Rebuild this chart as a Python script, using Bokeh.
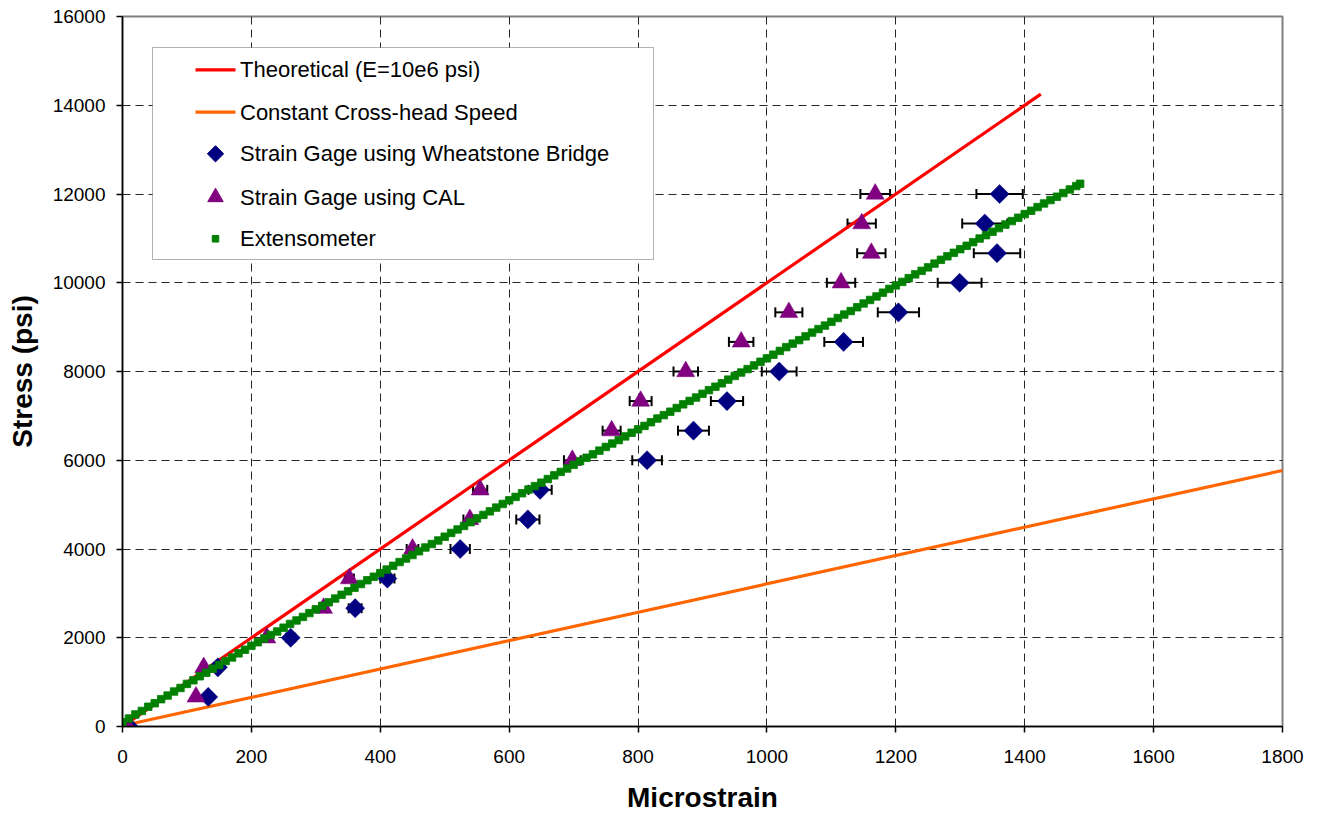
import numpy as np
from bokeh.plotting import figure
from bokeh.models import (Range1d, SingleIntervalTicker, ColumnDataSource, Whisker,
                          TeeHead, BoxAnnotation, Label)
from bokeh.embed import file_html
from bokeh.resources import INLINE

# ---------------- data ----------------
stress_levels = [0, 667, 1333, 2000, 2667, 3333, 4000, 4667, 5333, 6000,
                 6667, 7333, 8000, 8667, 9333, 10000, 10667, 11333, 12000]
wheatstone_strain = [10, 133, 148, 261, 361, 411, 524, 629, 648, 814,
                     886, 938, 1019, 1119, 1204, 1299, 1357, 1338, 1361]
wheatstone_err = [0, 4, 4, 7, 10, 11, 15, 18, 18, 23,
                  24, 25, 27, 30, 32, 34, 36, 35, 36]
cal_strain = [8, 114, 126, 224, 312, 352, 450, 539, 555, 698,
              759, 804, 874, 960, 1034, 1115, 1162, 1147, 1168]
cal_err = [0, 2, 3, 4, 6, 7, 9, 10, 11, 13,
           14, 17, 19, 19, 21, 22, 22, 22, 23]

theory_strain = [0, 1425]
theory_stress = [0, 14250]

crosshead_strain = [10, 1800]
crosshead_stress = [50, 5770]

ext_strain = [
    0, 10, 20, 30, 40, 50, 60, 70, 80, 90, 100, 110, 120, 130, 140, 150, 160, 170, 180, 190,
    200, 210, 220, 230, 240, 250, 260, 270, 280, 290, 300, 310, 320, 330, 340, 350, 360, 370, 380, 390,
    400, 410, 420, 430, 440, 450, 460, 470, 480, 490, 500, 510, 520, 530, 540, 550, 560, 570, 580, 590,
    600, 610, 620, 630, 640, 650, 660, 670, 680, 690, 700, 710, 720, 730, 740, 750, 760, 770, 780, 790,
    800, 810, 820, 830, 840, 850, 860, 870, 880, 890, 900, 910, 920, 930, 940, 950, 960, 970, 980, 990,
    1000, 1010, 1020, 1030, 1040, 1050, 1060, 1070, 1080, 1090, 1100, 1110, 1120, 1130, 1140, 1150, 1160, 1170, 1180, 1190,
    1200, 1210, 1220, 1230, 1240, 1250, 1260, 1270, 1280, 1290, 1300, 1310, 1320, 1330, 1340, 1350, 1360, 1370, 1380, 1390,
    1400, 1410, 1420, 1430, 1440, 1450, 1460, 1470, 1480, 1486]
ext_stress = [
    97, 180, 272, 351, 445, 524, 616, 697, 788, 868, 960, 1041, 1132, 1212, 1304, 1385, 1476, 1556, 1648, 1729,
    1817, 1899, 1985, 2063, 2141, 2227, 2312, 2391, 2470, 2555, 2640, 2719, 2798, 2883, 2968, 3047, 3126, 3211, 3296, 3375,
    3457, 3536, 3621, 3706, 3785, 3864, 3949, 4034, 4113, 4192, 4277, 4362, 4441, 4520, 4605, 4690, 4769, 4848, 4933, 5015,
    5097, 5174, 5257, 5340, 5417, 5494, 5577, 5660, 5737, 5814, 5897, 5980, 6057, 6134, 6217, 6300, 6377, 6454, 6537, 6620,
    6697, 6774, 6857, 6940, 7017, 7094, 7177, 7260, 7337, 7414, 7497, 7580, 7657, 7734, 7817, 7900, 7977, 8054, 8137, 8220,
    8297, 8379, 8464, 8549, 8628, 8707, 8792, 8877, 8956, 9035, 9120, 9205, 9284, 9363, 9448, 9533, 9612, 9691, 9776, 9861,
    9940, 10019, 10104, 10189, 10268, 10347, 10432, 10517, 10596, 10675, 10757, 10833, 10915, 10997, 11073, 11149, 11231, 11313, 11389, 11465,
    11547, 11623, 11705, 11787, 11863, 11939, 12021, 12103, 12179, 12230]

x_ticks_step = 200
y_ticks_step = 2000
X_MIN, X_MAX = 0, 1800
Y_MIN, Y_MAX = 0, 16000

# ---------------- layout constants (page pixels) ----------------
FRAME_L, FRAME_R, FRAME_T, FRAME_B = 122, 1282, 16, 726
FIG_W, FIG_H = 1310, 815


def sx(px):
    return X_MIN + (px - FRAME_L) * (X_MAX - X_MIN) / (FRAME_R - FRAME_L)


def sy(py):
    return Y_MIN + (FRAME_B - py) * (Y_MAX - Y_MIN) / (FRAME_B - FRAME_T)


FONT = "Liberation Sans"

p = figure(width=FIG_W, height=FIG_H, output_backend="svg", toolbar_location=None,
           x_range=Range1d(X_MIN, X_MAX), y_range=Range1d(Y_MIN, Y_MAX),
           min_border_left=FRAME_L, min_border_right=FIG_W - FRAME_R,
           min_border_top=FRAME_T, min_border_bottom=FIG_H - FRAME_B,
           background_fill_color="white", border_fill_color="white")

p.outline_line_color = "#808080"
p.outline_line_width = 2

# axes
p.xaxis.ticker = SingleIntervalTicker(interval=x_ticks_step, num_minor_ticks=0)
p.yaxis.ticker = SingleIntervalTicker(interval=y_ticks_step, num_minor_ticks=0)
for ax in (p.xaxis[0], p.yaxis[0]):
    ax.axis_line_color = "black"
    ax.axis_line_width = 1.5
    ax.major_tick_line_color = "black"
    ax.major_tick_line_width = 1.5
    ax.major_tick_out = 6
    ax.major_tick_in = 0
    ax.minor_tick_line_color = None
    ax.major_label_text_font = FONT
    ax.major_label_text_font_size = "19px"
    ax.major_label_text_color = "black"
    ax.axis_label_text_font = FONT
    ax.axis_label_text_font_style = "bold"
    ax.axis_label_text_font_size = "28px"
    ax.axis_label_text_color = "black"

p.xaxis.axis_label = "Microstrain"
p.yaxis.axis_label = "Stress (psi)"
p.xaxis.major_label_standoff = 17
p.xaxis.axis_label_standoff = 16
p.yaxis.major_label_standoff = 11
p.yaxis.axis_label_standoff = 12

# grid
for g in (p.xgrid[0], p.ygrid[0]):
    g.grid_line_color = "black"
    g.grid_line_width = 1
    g.grid_line_dash = "8 5"
    g.grid_line_alpha = 0.85

# legend box (white background covering grid)
legend_box = BoxAnnotation(left=sx(152), right=sx(653), top=sy(47), bottom=sy(259),
                           fill_color="white", fill_alpha=1.0,
                           line_color="black", line_width=1, level="underlay")
p.add_layout(legend_box)

# error bars
wsrc = ColumnDataSource(dict(
    y=stress_levels,
    lo=[s - e for s, e in zip(wheatstone_strain, wheatstone_err)],
    hi=[s + e for s, e in zip(wheatstone_strain, wheatstone_err)]))
csrc = ColumnDataSource(dict(
    y=stress_levels,
    lo=[s - e for s, e in zip(cal_strain, cal_err)],
    hi=[s + e for s, e in zip(cal_strain, cal_err)]))
for src in (wsrc, csrc):
    w = Whisker(source=src, base="y", lower="lo", upper="hi", dimension="width",
                line_color="black", line_width=2, level="underlay",
                lower_head=TeeHead(size=10, line_color="black", line_width=2),
                upper_head=TeeHead(size=10, line_color="black", line_width=2))
    p.add_layout(w)

# series
p.line(theory_strain, theory_stress, line_color="#FF0000", line_width=3.2)
p.line(crosshead_strain, crosshead_stress, line_color="#FF6600", line_width=3.2)
p.scatter(wheatstone_strain, stress_levels, marker="square", angle=np.pi / 4, size=13.5,
          fill_color="#000080", line_color="#000080", line_width=0.5)
p.scatter(cal_strain, stress_levels, marker="triangle", size=18,
          fill_color="#800080", line_color="#800080", line_width=0.5)
p.scatter(ext_strain, ext_stress, marker="square", size=7.5,
          fill_color="#008000", line_color="#008000", line_width=0.8)

# legend (manual)
rows = [69.3, 111.7, 153.3, 196.7, 238.3]
labels = ["Theoretical (E=10e6 psi)", "Constant Cross-head Speed",
          "Strain Gage using Wheatstone Bridge", "Strain Gage using CAL", "Extensometer"]
p.line([sx(195), sx(235)], [sy(rows[0]), sy(rows[0])], line_color="#FF0000", line_width=3.2)
p.line([sx(195), sx(235)], [sy(rows[1]), sy(rows[1])], line_color="#FF6600", line_width=3.2)
p.scatter([sx(215)], [sy(rows[2])], marker="square", angle=np.pi / 4, size=11.5,
          fill_color="#000080", line_color="#000080")
p.scatter([sx(215)], [sy(rows[3])], marker="triangle", size=15.5,
          fill_color="#800080", line_color="#800080")
p.scatter([sx(215)], [sy(rows[4])], marker="square", size=6.5,
          fill_color="#008000", line_color="#008000")
for r, t in zip(rows, labels):
    p.add_layout(Label(x=sx(239.5), y=sy(r), text=t, text_baseline="middle",
                       text_align="left", text_font=FONT, text_font_size="22px",
                       text_color="black"))

open("out.html", "w").write(file_html(p, INLINE))
